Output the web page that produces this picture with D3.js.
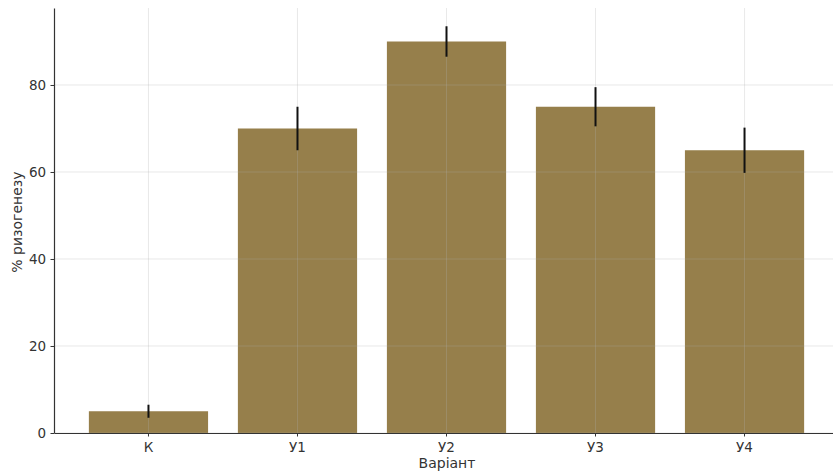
<!DOCTYPE html>
<html>
<head>
<meta charset="utf-8">
<script src="https://cdn.jsdelivr.net/npm/d3@7"></script>
<style>
  body { margin: 0; background: #fff; }
  text { font-family: "DejaVu Sans", sans-serif; }
</style>
</head>
<body>
<div id="chart"></div>
<script>
// data
const categories = ["К", "У1", "У2", "У3", "У4"];
const values = [5, 70, 90, 75, 65];
const errors = [1.5, 5, 3.5, 4.5, 5.2];
const yTicks = [0, 20, 40, 60, 80];

const W = 833, H = 474;
const margin = { top: 8, right: -6, bottom: 41, left: 54 };
const width = W - margin.left - margin.right,
    height = H - margin.top - margin.bottom;

const svg = d3.select("#chart")
    .append("svg")
    .attr("width", W)
    .attr("height", H)
    .append("g")
    .attr("transform", `translate(${margin.left}, ${margin.top})`);

// scales
const x = d3.scaleBand()
    .domain(categories)
    .range([0, width])
    .paddingInner(0.2)
    .paddingOuter(0.234);

const y = d3.scaleLinear()
    .domain([0, 97.7])
    .range([height, 0]);

// bars
svg.selectAll("rect.bar")
    .data(categories)
    .join("rect")
    .attr("class", "bar")
    .attr("x", d => x(d))
    .attr("width", x.bandwidth())
    .attr("y", (d, i) => y(values[i]))
    .attr("height", (d, i) => y(0) - y(values[i]))
    .attr("fill", "#967f4b");

// grid (drawn over bars, faint)
const grid = svg.append("g").attr("stroke", "#b0b0b0").attr("stroke-opacity", 0.35).attr("stroke-width", 0.8);
grid.selectAll("line.h")
    .data(yTicks)
    .join("line")
    .attr("x1", 0).attr("x2", width)
    .attr("y1", d => y(d)).attr("y2", d => y(d));
grid.selectAll("line.v")
    .data(categories)
    .join("line")
    .attr("x1", d => x(d) + x.bandwidth() / 2)
    .attr("x2", d => x(d) + x.bandwidth() / 2)
    .attr("y1", 0).attr("y2", height);

// error bars
svg.selectAll("line.err")
    .data(categories)
    .join("line")
    .attr("class", "err")
    .attr("x1", d => x(d) + x.bandwidth() / 2)
    .attr("x2", d => x(d) + x.bandwidth() / 2)
    .attr("y1", (d, i) => y(values[i] - errors[i]))
    .attr("y2", (d, i) => y(values[i] + errors[i]))
    .attr("stroke", "#111")
    .attr("stroke-width", 2);

// axes
const xAxis = svg.append("g")
    .attr("transform", `translate(0, ${height})`)
    .call(d3.axisBottom(x).tickSize(3.5).tickSizeOuter(0));
const yAxis = svg.append("g")
    .call(d3.axisLeft(y).tickValues(yTicks).tickSize(3.5).tickSizeOuter(0));

[xAxis, yAxis].forEach(a => {
    a.select(".domain").attr("stroke", "#333").attr("stroke-width", 1.2);
    a.selectAll(".tick line").attr("stroke", "#333");
    a.selectAll(".tick text").attr("font-size", 13.5).attr("fill", "#333")
        .attr("font-family", "DejaVu Sans, sans-serif");
});
xAxis.selectAll(".tick text").attr("dy", "0.9em");
yAxis.selectAll(".tick text").attr("dx", "-0.1em");

// labels
svg.append("text")
    .attr("x", (447 - margin.left))
    .attr("y", height + 35)
    .attr("text-anchor", "middle")
    .attr("font-size", 14)
    .attr("fill", "#333")
    .text("Варіант");

svg.append("text")
    .attr("transform", `translate(${22 - margin.left}, ${y(48.5)}) rotate(-90)`)
    .attr("text-anchor", "middle")
    .attr("font-size", 14)
    .attr("fill", "#333")
    .text("% ризогенезу");
</script>
</body>
</html>
